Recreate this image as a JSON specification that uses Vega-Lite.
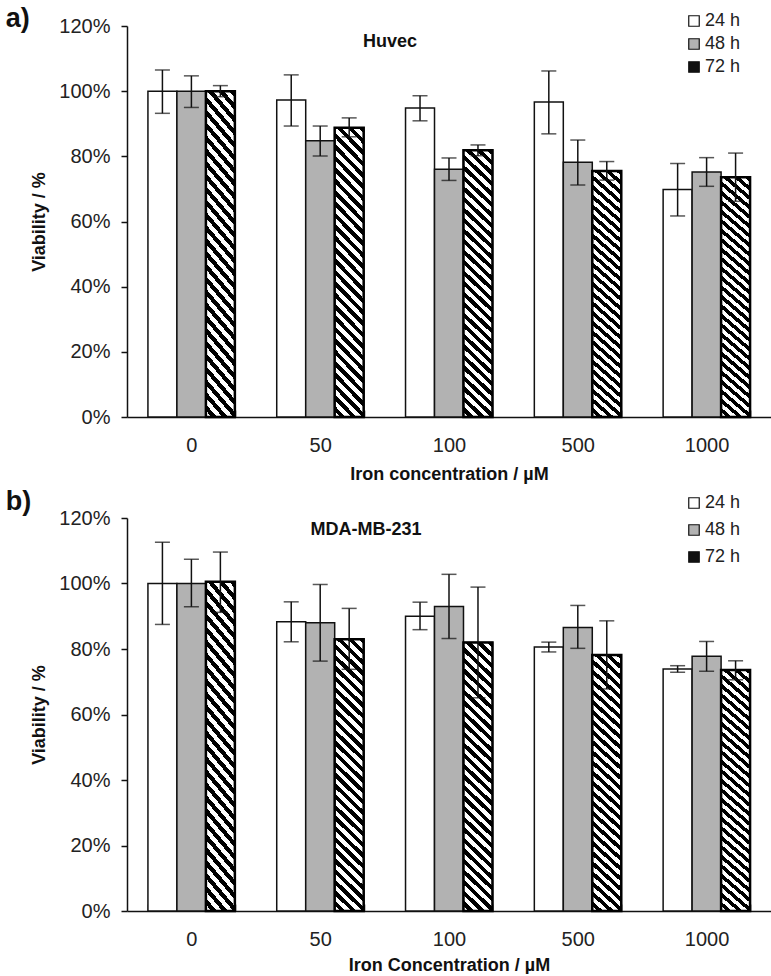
{
  "$schema": "https://vega.github.io/schema/vega-lite/v6.json",
  "padding": {"left": 5, "top": 5, "right": 0, "bottom": 0},
  "background": "white",
  "spacing": 5,
  "resolve": {"scale": {"fill": "independent"}, "legend": {"fill": "independent"}},
  "config": {
    "view": {"stroke": null},
    "font": "Liberation Sans",
    "axis": {"domainColor": "#111", "domainWidth": 1.5, "tickColor": "#111", "tickWidth": 1.5, "labelColor": "#222", "labelFont": "Liberation Sans", "labelFontSize": 20, "titleFont": "Liberation Sans", "titleFontSize": 18, "titleFontWeight": "bold", "titleColor": "#111", "grid": false},
    "legend": {"labelFont": "Liberation Sans", "labelFontSize": 18, "labelColor": "#222", "symbolType": "square", "symbolSize": 110, "symbolStrokeColor": "#111", "symbolStrokeWidth": 1.2, "labelOffset": 2, "orient": "none", "legendX": 558},
    "title": {"font": "Liberation Sans", "color": "#111"}
  },
  "datasets": {
    "huvec": [
      {"conc": "0", "time": "24 h", "v": 100, "lo": 93.2, "hi": 106.5},
      {"conc": "0", "time": "48 h", "v": 100, "lo": 95, "hi": 104.7},
      {"conc": "0", "time": "72 h", "v": 100, "lo": 98.3, "hi": 101.7},
      {"conc": "50", "time": "24 h", "v": 97.3, "lo": 89.3, "hi": 105},
      {"conc": "50", "time": "48 h", "v": 84.8, "lo": 80.1, "hi": 89.3},
      {"conc": "50", "time": "72 h", "v": 88.8, "lo": 86, "hi": 91.8},
      {"conc": "100", "time": "24 h", "v": 94.8, "lo": 90.9, "hi": 98.6},
      {"conc": "100", "time": "48 h", "v": 76, "lo": 72.6, "hi": 79.5},
      {"conc": "100", "time": "72 h", "v": 81.9, "lo": 80.2, "hi": 83.5},
      {"conc": "500", "time": "24 h", "v": 96.7, "lo": 86.9, "hi": 106.2},
      {"conc": "500", "time": "48 h", "v": 78.2, "lo": 71.2, "hi": 85},
      {"conc": "500", "time": "72 h", "v": 75.5, "lo": 72.7, "hi": 78.4},
      {"conc": "1000", "time": "24 h", "v": 69.8, "lo": 61.7, "hi": 77.8},
      {"conc": "1000", "time": "48 h", "v": 75.2, "lo": 70.8, "hi": 79.6},
      {"conc": "1000", "time": "72 h", "v": 73.6, "lo": 66.2, "hi": 81}
    ],
    "mda": [
      {"conc": "0", "time": "24 h", "v": 100, "lo": 87.5, "hi": 112.6},
      {"conc": "0", "time": "48 h", "v": 100, "lo": 92.9, "hi": 107.4},
      {"conc": "0", "time": "72 h", "v": 100.5, "lo": 91.2, "hi": 109.6},
      {"conc": "50", "time": "24 h", "v": 88.3, "lo": 82.2, "hi": 94.4},
      {"conc": "50", "time": "48 h", "v": 88, "lo": 76.3, "hi": 99.7},
      {"conc": "50", "time": "72 h", "v": 83, "lo": 73.8, "hi": 92.4},
      {"conc": "100", "time": "24 h", "v": 90, "lo": 85.9, "hi": 94.3},
      {"conc": "100", "time": "48 h", "v": 93, "lo": 83.2, "hi": 102.8},
      {"conc": "100", "time": "72 h", "v": 82, "lo": 65.1, "hi": 98.9},
      {"conc": "500", "time": "24 h", "v": 80.6, "lo": 79.1, "hi": 82.1},
      {"conc": "500", "time": "48 h", "v": 86.6, "lo": 80.2, "hi": 93.3},
      {"conc": "500", "time": "72 h", "v": 78.2, "lo": 67.8, "hi": 88.6},
      {"conc": "1000", "time": "24 h", "v": 73.9, "lo": 72.9, "hi": 74.9},
      {"conc": "1000", "time": "48 h", "v": 77.8, "lo": 73.2, "hi": 82.3},
      {"conc": "1000", "time": "72 h", "v": 73.6, "lo": 70.6, "hi": 76.4}
    ]
  },
  "vconcat": [
    {
      "title": {"text": "a)", "anchor": "start", "frame": "bounds", "fontSize": 27, "fontWeight": "bold", "color": "#111", "offset": -21, "dx": -25},
      "vconcat": [
        {
          "width": 644,
          "height": 391,
          "data": {"name": "huvec"},
          "title": {"text": "Huvec", "fontSize": 18, "fontWeight": "bold", "dx": -59, "dy": 12, "offset": -23},
          "encoding": {
            "x": {"field": "conc", "type": "nominal", "sort": ["0", "50", "100", "500", "1000"], "scale": {"paddingInner": 0.325, "paddingOuter": 0.1625}, "axis": {"title": "Iron concentration  /  µM", "labelAngle": 0, "tickBand": "extent", "tickSize": -7, "labelPadding": 25, "titlePadding": 10}},
            "xOffset": {"field": "time", "type": "nominal", "scale": {"domain": ["24 h", "48 h", "72 h"], "paddingInner": 0, "paddingOuter": 0}}
          },
          "layer": [
            {
              "mark": {"type": "bar", "stroke": "#111", "strokeWidth": 1.5},
              "encoding": {
                "y": {"field": "v", "type": "quantitative", "scale": {"domain": [0, 120], "nice": false}, "axis": {"title": "Viability  /  %", "values": [0, 20, 40, 60, 80, 100, 120], "labelExpr": "datum.value + '%'", "tickSize": 6, "labelPadding": 11, "titlePadding": 10}},
                "fill": {"field": "time", "type": "nominal", "scale": {"domain": ["24 h", "48 h", "72 h"], "range": ["#ffffff", "#b2b2b2", "#111111"]}, "legend": {"title": null, "legendY": -14, "rowPadding": 5}}
              }
            },
            {
              "transform": [{"filter": "datum.time === '72 h'"}],
              "mark": {"type": "bar", "stroke": "#000", "strokeWidth": 2.5, "fill": {"gradient": "linear", "x1": 1, "y1": 0, "x2": 0.8869, "y2": 1.0919, "stops": [
                {"offset": 0, "color": "#000"}, {"offset": 0.0179, "color": "#000"}, {"offset": 0.0179, "color": "#fff"}, {"offset": 0.0357, "color": "#fff"},
                {"offset": 0.0357, "color": "#000"}, {"offset": 0.0536, "color": "#000"}, {"offset": 0.0536, "color": "#fff"}, {"offset": 0.0714, "color": "#fff"},
                {"offset": 0.0714, "color": "#000"}, {"offset": 0.0893, "color": "#000"}, {"offset": 0.0893, "color": "#fff"}, {"offset": 0.1071, "color": "#fff"},
                {"offset": 0.1071, "color": "#000"}, {"offset": 0.125, "color": "#000"}, {"offset": 0.125, "color": "#fff"}, {"offset": 0.1429, "color": "#fff"},
                {"offset": 0.1429, "color": "#000"}, {"offset": 0.1607, "color": "#000"}, {"offset": 0.1607, "color": "#fff"}, {"offset": 0.1786, "color": "#fff"},
                {"offset": 0.1786, "color": "#000"}, {"offset": 0.1964, "color": "#000"}, {"offset": 0.1964, "color": "#fff"}, {"offset": 0.2143, "color": "#fff"},
                {"offset": 0.2143, "color": "#000"}, {"offset": 0.2321, "color": "#000"}, {"offset": 0.2321, "color": "#fff"}, {"offset": 0.25, "color": "#fff"},
                {"offset": 0.25, "color": "#000"}, {"offset": 0.2679, "color": "#000"}, {"offset": 0.2679, "color": "#fff"}, {"offset": 0.2857, "color": "#fff"},
                {"offset": 0.2857, "color": "#000"}, {"offset": 0.3036, "color": "#000"}, {"offset": 0.3036, "color": "#fff"}, {"offset": 0.3214, "color": "#fff"},
                {"offset": 0.3214, "color": "#000"}, {"offset": 0.3393, "color": "#000"}, {"offset": 0.3393, "color": "#fff"}, {"offset": 0.3571, "color": "#fff"},
                {"offset": 0.3571, "color": "#000"}, {"offset": 0.375, "color": "#000"}, {"offset": 0.375, "color": "#fff"}, {"offset": 0.3929, "color": "#fff"},
                {"offset": 0.3929, "color": "#000"}, {"offset": 0.4107, "color": "#000"}, {"offset": 0.4107, "color": "#fff"}, {"offset": 0.4286, "color": "#fff"},
                {"offset": 0.4286, "color": "#000"}, {"offset": 0.4464, "color": "#000"}, {"offset": 0.4464, "color": "#fff"}, {"offset": 0.4643, "color": "#fff"},
                {"offset": 0.4643, "color": "#000"}, {"offset": 0.4821, "color": "#000"}, {"offset": 0.4821, "color": "#fff"}, {"offset": 0.5, "color": "#fff"},
                {"offset": 0.5, "color": "#000"}, {"offset": 0.5179, "color": "#000"}, {"offset": 0.5179, "color": "#fff"}, {"offset": 0.5357, "color": "#fff"},
                {"offset": 0.5357, "color": "#000"}, {"offset": 0.5536, "color": "#000"}, {"offset": 0.5536, "color": "#fff"}, {"offset": 0.5714, "color": "#fff"},
                {"offset": 0.5714, "color": "#000"}, {"offset": 0.5893, "color": "#000"}, {"offset": 0.5893, "color": "#fff"}, {"offset": 0.6071, "color": "#fff"},
                {"offset": 0.6071, "color": "#000"}, {"offset": 0.625, "color": "#000"}, {"offset": 0.625, "color": "#fff"}, {"offset": 0.6429, "color": "#fff"},
                {"offset": 0.6429, "color": "#000"}, {"offset": 0.6607, "color": "#000"}, {"offset": 0.6607, "color": "#fff"}, {"offset": 0.6786, "color": "#fff"},
                {"offset": 0.6786, "color": "#000"}, {"offset": 0.6964, "color": "#000"}, {"offset": 0.6964, "color": "#fff"}, {"offset": 0.7143, "color": "#fff"},
                {"offset": 0.7143, "color": "#000"}, {"offset": 0.7321, "color": "#000"}, {"offset": 0.7321, "color": "#fff"}, {"offset": 0.75, "color": "#fff"},
                {"offset": 0.75, "color": "#000"}, {"offset": 0.7679, "color": "#000"}, {"offset": 0.7679, "color": "#fff"}, {"offset": 0.7857, "color": "#fff"},
                {"offset": 0.7857, "color": "#000"}, {"offset": 0.8036, "color": "#000"}, {"offset": 0.8036, "color": "#fff"}, {"offset": 0.8214, "color": "#fff"},
                {"offset": 0.8214, "color": "#000"}, {"offset": 0.8393, "color": "#000"}, {"offset": 0.8393, "color": "#fff"}, {"offset": 0.8571, "color": "#fff"},
                {"offset": 0.8571, "color": "#000"}, {"offset": 0.875, "color": "#000"}, {"offset": 0.875, "color": "#fff"}, {"offset": 0.8929, "color": "#fff"},
                {"offset": 0.8929, "color": "#000"}, {"offset": 0.9107, "color": "#000"}, {"offset": 0.9107, "color": "#fff"}, {"offset": 0.9286, "color": "#fff"},
                {"offset": 0.9286, "color": "#000"}, {"offset": 0.9464, "color": "#000"}, {"offset": 0.9464, "color": "#fff"}, {"offset": 0.9643, "color": "#fff"},
                {"offset": 0.9643, "color": "#000"}, {"offset": 0.9821, "color": "#000"}, {"offset": 0.9821, "color": "#fff"}, {"offset": 1, "color": "#fff"}
              ]}},
              "encoding": {"y": {"field": "v", "type": "quantitative"}}
            },
            {
              "mark": {"type": "rule", "color": "#111", "strokeWidth": 1.5},
              "encoding": {"y": {"field": "lo", "type": "quantitative"}, "y2": {"field": "hi"}}
            },
            {
              "mark": {"type": "tick", "color": "#111", "thickness": 1.5, "size": 15},
              "encoding": {"y": {"field": "lo", "type": "quantitative"}}
            },
            {
              "mark": {"type": "tick", "color": "#111", "thickness": 1.5, "size": 15},
              "encoding": {"y": {"field": "hi", "type": "quantitative"}}
            }
          ]
        }
      ]
    },
    {
      "title": {"text": "b)", "anchor": "start", "frame": "bounds", "fontSize": 27, "fontWeight": "bold", "color": "#111", "offset": -22, "dx": -25},
      "vconcat": [
        {
          "width": 644,
          "height": 393,
          "data": {"name": "mda"},
          "title": {"text": "MDA-MB-231", "fontSize": 18, "fontWeight": "bold", "dx": -83, "dy": 11, "offset": -20},
          "encoding": {
            "x": {"field": "conc", "type": "nominal", "sort": ["0", "50", "100", "500", "1000"], "scale": {"paddingInner": 0.325, "paddingOuter": 0.1625}, "axis": {"title": "Iron Concentration  /  µM", "labelAngle": 0, "tickBand": "extent", "tickSize": -7, "labelPadding": 25, "titlePadding": 7}},
            "xOffset": {"field": "time", "type": "nominal", "scale": {"domain": ["24 h", "48 h", "72 h"], "paddingInner": 0, "paddingOuter": 0}}
          },
          "layer": [
            {
              "mark": {"type": "bar", "stroke": "#111", "strokeWidth": 1.5},
              "encoding": {
                "y": {"field": "v", "type": "quantitative", "scale": {"domain": [0, 120], "nice": false}, "axis": {"title": "Viability  /  %", "values": [0, 20, 40, 60, 80, 100, 120], "labelExpr": "datum.value + '%'", "tickSize": 6, "labelPadding": 11, "titlePadding": 10}},
                "fill": {"field": "time", "type": "nominal", "scale": {"domain": ["24 h", "48 h", "72 h"], "range": ["#ffffff", "#b2b2b2", "#111111"]}, "legend": {"title": null, "legendY": -24, "rowPadding": 9}}
              }
            },
            {
              "transform": [{"filter": "datum.time === '72 h'"}],
              "mark": {"type": "bar", "stroke": "#000", "strokeWidth": 2.5, "fill": {"gradient": "linear", "x1": 1, "y1": 0, "x2": 0.8869, "y2": 1.0919, "stops": [
                {"offset": 0, "color": "#000"}, {"offset": 0.0179, "color": "#000"}, {"offset": 0.0179, "color": "#fff"}, {"offset": 0.0357, "color": "#fff"},
                {"offset": 0.0357, "color": "#000"}, {"offset": 0.0536, "color": "#000"}, {"offset": 0.0536, "color": "#fff"}, {"offset": 0.0714, "color": "#fff"},
                {"offset": 0.0714, "color": "#000"}, {"offset": 0.0893, "color": "#000"}, {"offset": 0.0893, "color": "#fff"}, {"offset": 0.1071, "color": "#fff"},
                {"offset": 0.1071, "color": "#000"}, {"offset": 0.125, "color": "#000"}, {"offset": 0.125, "color": "#fff"}, {"offset": 0.1429, "color": "#fff"},
                {"offset": 0.1429, "color": "#000"}, {"offset": 0.1607, "color": "#000"}, {"offset": 0.1607, "color": "#fff"}, {"offset": 0.1786, "color": "#fff"},
                {"offset": 0.1786, "color": "#000"}, {"offset": 0.1964, "color": "#000"}, {"offset": 0.1964, "color": "#fff"}, {"offset": 0.2143, "color": "#fff"},
                {"offset": 0.2143, "color": "#000"}, {"offset": 0.2321, "color": "#000"}, {"offset": 0.2321, "color": "#fff"}, {"offset": 0.25, "color": "#fff"},
                {"offset": 0.25, "color": "#000"}, {"offset": 0.2679, "color": "#000"}, {"offset": 0.2679, "color": "#fff"}, {"offset": 0.2857, "color": "#fff"},
                {"offset": 0.2857, "color": "#000"}, {"offset": 0.3036, "color": "#000"}, {"offset": 0.3036, "color": "#fff"}, {"offset": 0.3214, "color": "#fff"},
                {"offset": 0.3214, "color": "#000"}, {"offset": 0.3393, "color": "#000"}, {"offset": 0.3393, "color": "#fff"}, {"offset": 0.3571, "color": "#fff"},
                {"offset": 0.3571, "color": "#000"}, {"offset": 0.375, "color": "#000"}, {"offset": 0.375, "color": "#fff"}, {"offset": 0.3929, "color": "#fff"},
                {"offset": 0.3929, "color": "#000"}, {"offset": 0.4107, "color": "#000"}, {"offset": 0.4107, "color": "#fff"}, {"offset": 0.4286, "color": "#fff"},
                {"offset": 0.4286, "color": "#000"}, {"offset": 0.4464, "color": "#000"}, {"offset": 0.4464, "color": "#fff"}, {"offset": 0.4643, "color": "#fff"},
                {"offset": 0.4643, "color": "#000"}, {"offset": 0.4821, "color": "#000"}, {"offset": 0.4821, "color": "#fff"}, {"offset": 0.5, "color": "#fff"},
                {"offset": 0.5, "color": "#000"}, {"offset": 0.5179, "color": "#000"}, {"offset": 0.5179, "color": "#fff"}, {"offset": 0.5357, "color": "#fff"},
                {"offset": 0.5357, "color": "#000"}, {"offset": 0.5536, "color": "#000"}, {"offset": 0.5536, "color": "#fff"}, {"offset": 0.5714, "color": "#fff"},
                {"offset": 0.5714, "color": "#000"}, {"offset": 0.5893, "color": "#000"}, {"offset": 0.5893, "color": "#fff"}, {"offset": 0.6071, "color": "#fff"},
                {"offset": 0.6071, "color": "#000"}, {"offset": 0.625, "color": "#000"}, {"offset": 0.625, "color": "#fff"}, {"offset": 0.6429, "color": "#fff"},
                {"offset": 0.6429, "color": "#000"}, {"offset": 0.6607, "color": "#000"}, {"offset": 0.6607, "color": "#fff"}, {"offset": 0.6786, "color": "#fff"},
                {"offset": 0.6786, "color": "#000"}, {"offset": 0.6964, "color": "#000"}, {"offset": 0.6964, "color": "#fff"}, {"offset": 0.7143, "color": "#fff"},
                {"offset": 0.7143, "color": "#000"}, {"offset": 0.7321, "color": "#000"}, {"offset": 0.7321, "color": "#fff"}, {"offset": 0.75, "color": "#fff"},
                {"offset": 0.75, "color": "#000"}, {"offset": 0.7679, "color": "#000"}, {"offset": 0.7679, "color": "#fff"}, {"offset": 0.7857, "color": "#fff"},
                {"offset": 0.7857, "color": "#000"}, {"offset": 0.8036, "color": "#000"}, {"offset": 0.8036, "color": "#fff"}, {"offset": 0.8214, "color": "#fff"},
                {"offset": 0.8214, "color": "#000"}, {"offset": 0.8393, "color": "#000"}, {"offset": 0.8393, "color": "#fff"}, {"offset": 0.8571, "color": "#fff"},
                {"offset": 0.8571, "color": "#000"}, {"offset": 0.875, "color": "#000"}, {"offset": 0.875, "color": "#fff"}, {"offset": 0.8929, "color": "#fff"},
                {"offset": 0.8929, "color": "#000"}, {"offset": 0.9107, "color": "#000"}, {"offset": 0.9107, "color": "#fff"}, {"offset": 0.9286, "color": "#fff"},
                {"offset": 0.9286, "color": "#000"}, {"offset": 0.9464, "color": "#000"}, {"offset": 0.9464, "color": "#fff"}, {"offset": 0.9643, "color": "#fff"},
                {"offset": 0.9643, "color": "#000"}, {"offset": 0.9821, "color": "#000"}, {"offset": 0.9821, "color": "#fff"}, {"offset": 1, "color": "#fff"}
              ]}},
              "encoding": {"y": {"field": "v", "type": "quantitative"}}
            },
            {
              "mark": {"type": "rule", "color": "#111", "strokeWidth": 1.5},
              "encoding": {"y": {"field": "lo", "type": "quantitative"}, "y2": {"field": "hi"}}
            },
            {
              "mark": {"type": "tick", "color": "#111", "thickness": 1.5, "size": 15},
              "encoding": {"y": {"field": "lo", "type": "quantitative"}}
            },
            {
              "mark": {"type": "tick", "color": "#111", "thickness": 1.5, "size": 15},
              "encoding": {"y": {"field": "hi", "type": "quantitative"}}
            }
          ]
        }
      ]
    }
  ]
}
